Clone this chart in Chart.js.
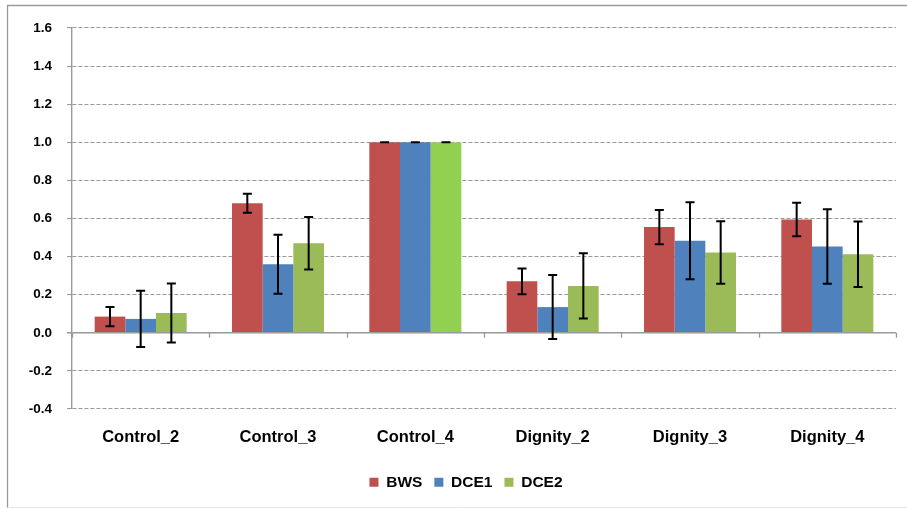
<!DOCTYPE html>
<html>
<head>
<meta charset="utf-8">
<script src="https://cdn.jsdelivr.net/npm/chart.js@4/dist/chart.umd.min.js"></script>
<style>
  html, body { margin: 0; padding: 0; background: #fff; }
  #wrap { width: 907px; height: 509px; position: relative; }
</style>
</head>
<body>
<div id="wrap"><canvas id="c" width="907" height="509"></canvas></div>
<script>
// Categories and series (mean weights with error half-widths)
const categories = ['Control_2', 'Control_3', 'Control_4', 'Dignity_2', 'Dignity_3', 'Dignity_4'];
const seriesNames = ['BWS', 'DCE1', 'DCE2'];

const bws     = [0.085, 0.68, 1.0, 0.27, 0.555, 0.595];
const bwsErr  = [0.05, 0.05, 0.0, 0.067, 0.09, 0.088];

const dce1    = [0.073, 0.36, 1.0, 0.135, 0.483, 0.453];
const dce1Err = [0.148, 0.155, 0.0, 0.168, 0.202, 0.195];

const dce2    = [0.104, 0.47, 1.0, 0.246, 0.421, 0.412];
const dce2Err = [0.155, 0.138, 0.0, 0.171, 0.164, 0.172];

const yTicks = { min: -0.4, max: 1.6, step: 0.2 };

const RED = '#C0504D', BLUE = '#4F81BD', GREEN = '#9BBB59', BRIGHT_GREEN = '#92D050';
const FONT = "'Liberation Sans', Arial, sans-serif";

// Error bars with caps, drawn through the value scale
const errorBars = {
  id: 'errorBars',
  afterDatasetsDraw(chart) {
    const ctx = chart.ctx;
    const y = chart.scales.y;
    ctx.save();
    ctx.strokeStyle = '#000';
    ctx.lineWidth = 2;
    chart.data.datasets.forEach((ds, di) => {
      const meta = chart.getDatasetMeta(di);
      meta.data.forEach((bar, i) => {
        const v = ds.data[i], e = ds.errors[i];
        const yt = y.getPixelForValue(v + e);
        const yb = y.getPixelForValue(v - e);
        const cap = 4.5;
        ctx.beginPath();
        ctx.moveTo(bar.x, yt); ctx.lineTo(bar.x, yb);
        ctx.moveTo(bar.x - cap, yt); ctx.lineTo(bar.x + cap, yt);
        ctx.moveTo(bar.x - cap, yb); ctx.lineTo(bar.x + cap, yb);
        ctx.stroke();
      });
    });
    ctx.restore();
  }
};

// Category separator ticks on the zero line, the outer frame,
// and a small nudge that centres the legend under the plot
const frame = {
  id: 'frame',
  afterLayout(chart) {
    const lg = chart.legend;
    if (lg) { lg.left += 18; lg.right += 18; }
  },
  beforeDraw(chart) {
    const ctx = chart.ctx;
    ctx.save();
    ctx.lineWidth = 1.3;
    ctx.strokeStyle = '#9a9a9a';
    ctx.beginPath();
    ctx.moveTo(7.5, 508); ctx.lineTo(7.5, 5.5); ctx.lineTo(907, 5.5);
    ctx.stroke();
    ctx.strokeStyle = '#e6e6e6';
    ctx.lineWidth = 1;
    ctx.beginPath();
    ctx.moveTo(7.5, 507.5); ctx.lineTo(907, 507.5);
    ctx.stroke();
    ctx.restore();
  },
  afterDraw(chart) {
    const ctx = chart.ctx;
    const x = chart.scales.x, y = chart.scales.y;
    const y0 = y.getPixelForValue(0);
    ctx.save();
    ctx.strokeStyle = '#999';
    ctx.lineWidth = 1.3;
    ctx.beginPath();
    for (let i = 0; i <= categories.length; i++) {
      const px = Math.round(x.getPixelForValue(i - 0.5)) + 0.5;
      ctx.moveTo(px, y0); ctx.lineTo(px, y0 + 5);
    }
    ctx.stroke();
    ctx.restore();
  }
};

new Chart(document.getElementById('c'), {
  type: 'bar',
  data: {
    labels: categories,
    datasets: [
      { label: seriesNames[0], data: bws, errors: bwsErr, backgroundColor: RED },
      { label: seriesNames[1], data: dce1, errors: dce1Err, backgroundColor: BLUE },
      { label: seriesNames[2], data: dce2, errors: dce2Err,
        backgroundColor: dce2.map((v, i) => categories[i] === 'Control_4' ? BRIGHT_GREEN : GREEN) }
    ]
  },
  options: {
    responsive: false,
    animation: false,
    devicePixelRatio: 1,
    layout: { padding: { top: 28, right: 11, left: 0, bottom: 9 } },
    datasets: { bar: { categoryPercentage: 0.67, barPercentage: 1.0, borderWidth: 0 } },
    scales: {
      x: {
        grid: { display: false, drawTicks: false },
        border: { display: false },
        ticks: { color: '#000', padding: 19, font: { family: FONT, size: 16.5, weight: 'bold' } },
        afterFit(scale) { scale.height = 53.5; }
      },
      y: {
        min: yTicks.min, max: yTicks.max,
        grid: {
          color: '#9a9a9a',
          lineWidth: ctx => (ctx.tick && ctx.tick.value === 0) ? 1.6 : 1.1,
          tickLength: 5,
          tickColor: '#9a9a9a'
        },
        border: {
          display: true, color: '#9a9a9a', width: 1.4,
          dash: ctx => (ctx.tick && Math.abs(ctx.tick.value) > 1e-9) ? [4, 2] : []
        },
        ticks: {
          stepSize: yTicks.step, color: '#000', padding: 15,
          font: { family: FONT, size: 13.5, weight: 'bold' },
          callback: v => Number(v).toFixed(1)
        },
        afterFit(scale) { scale.width = 72; }
      }
    },
    plugins: {
      legend: {
        position: 'bottom',
        labels: {
          boxWidth: 9, boxHeight: 9, padding: 12, color: '#000',
          font: { family: FONT, size: 15.5, weight: 'bold' },
          generateLabels(chart) {
            const cols = [RED, BLUE, GREEN];
            return chart.data.datasets.map((ds, i) => ({
              text: ds.label, fillStyle: cols[i], strokeStyle: cols[i], lineWidth: 0,
              datasetIndex: i, hidden: false
            }));
          }
        }
      },
      tooltip: { enabled: false }
    }
  },
  plugins: [errorBars, frame]
});
</script>
</body>
</html>
